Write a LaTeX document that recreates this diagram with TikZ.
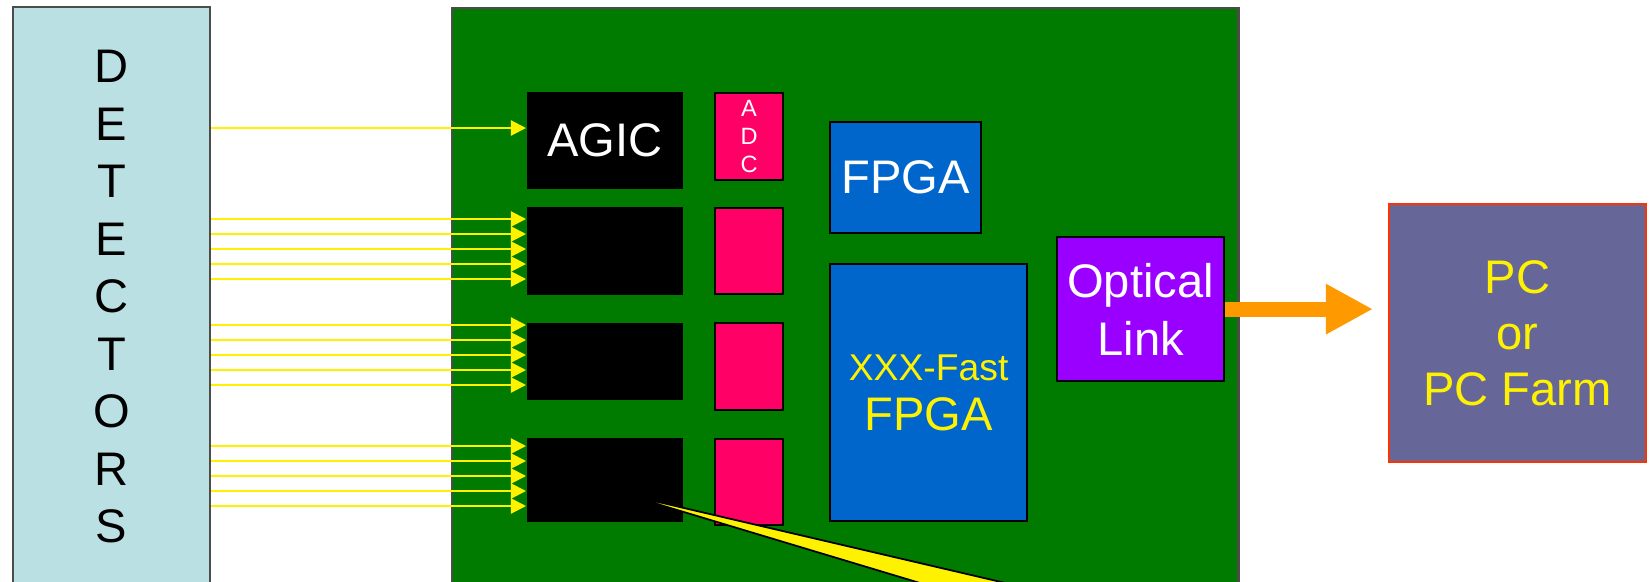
\documentclass[tikz,border=0pt]{standalone}
\usepackage{fontspec}
\setmainfont{Liberation Sans}
\usetikzlibrary{arrows.meta,positioning,calc}
\definecolor{detcyan}{RGB}{187,224,227}
\definecolor{boardgreen}{RGB}{0,123,0}
\definecolor{adcpink}{RGB}{255,0,102}
\definecolor{fpgablue}{RGB}{0,102,204}
\definecolor{linkviolet}{RGB}{153,0,255}
\definecolor{pcslate}{RGB}{102,102,153}
\definecolor{pcred}{RGB}{255,51,0}
\definecolor{linkorange}{RGB}{255,153,0}

\begin{document}
\begin{tikzpicture}[
  x=0.01cm, y=-0.01cm,
  font=\fontsize{13.4}{16.4}\selectfont,
  box/.style={draw, line width=0.6pt, inner sep=0pt, anchor=north west, align=center},
  chip/.style={box, draw=none, fill=black, text=white, minimum width=1.56cm},
  adcbox/.style={box, fill=adcpink, text=white, minimum width=0.68cm},
  fpgabox/.style={box, fill=fpgablue},
  sig/.style={yellow, line width=0.6pt, -{Triangle[length=0.15cm, width=0.15cm]}},
  uplink/.style={linkorange, line width=0.15cm, -{Triangle[length=0.47cm, width=0.47cm]}, shorten >=0.15cm}
]
\useasboundingbox (0,0) rectangle (1651,581);
\clip (0,0) rectangle (1651,581);

% detectors and readout board
\node[box, draw=black!70, fill=detcyan, minimum width=1.97cm, minimum height=5.79cm,
  font=\fontsize{13.4}{16.36}\selectfont] (det) at (12,6) {D\\E\\T\\E\\C\\T\\O\\R\\S};
\node[box, draw=black!70, fill=boardgreen, minimum width=7.86cm, minimum height=6cm] (board) at (451,7) {};

% front-end chips
\node[chip, minimum height=0.97cm] (agic) at (526,91) {AGIC};
\node[chip, minimum height=0.88cm] (chipb) at (526,206) {};
\node[chip, minimum height=0.77cm] (chipc) at (526,322) {};
\node[chip, minimum height=0.84cm] (chipd) at (526,437) {};

\node[adcbox, minimum height=0.87cm, font=\fontsize{6.7}{8}\selectfont] (adc) at (714,92) {A\\D\\C};
\node[adcbox, minimum height=0.86cm] (adcb) at (714,207) {};
\node[adcbox, minimum height=0.87cm] (adcc) at (714,322) {};
\node[adcbox, minimum height=0.86cm] (adcd) at (714,438) {};

% FPGAs and link
\node[fpgabox, text=white, minimum width=1.51cm, minimum height=1.11cm] (fpga) at (829,121) {FPGA};
\node[fpgabox, text=yellow, minimum width=1.97cm, minimum height=2.57cm,
  font=\fontsize{13.4}{14.1}\selectfont] (fastfpga) at (829,263) {{\fontsize{10.6}{12}\selectfont XXX-Fast}\\FPGA};
\node[box, fill=linkviolet, text=white, minimum width=1.67cm, minimum height=1.44cm] (optical) at (1056,236) {Optical\\Link};
\node[box, draw=pcred, fill=pcslate, text=yellow, minimum width=2.57cm, minimum height=2.58cm,
  font=\fontsize{13.4}{15.9}\selectfont] (pc) at (1388,203) {PC\\or\\PC Farm};

% detector signals
\draw[sig] (det.east |- 0,128) -- (agic.west |- 0,128);
\foreach \y in {219,234,249,264,279} \draw[sig] (det.east |- 0,\y) -- (chipb.west |- 0,\y);
\foreach \y in {325,340,355,370,385} \draw[sig] (det.east |- 0,\y) -- (chipc.west |- 0,\y);
\foreach \y in {446,461,476,491,506} \draw[sig] (det.east |- 0,\y) -- (chipd.west |- 0,\y);

\draw[uplink] (optical.east) -- (optical.east -| pc.west);

% callout
\coordinate (callout) at (624,494);
\draw[line width=0.5pt, fill=yellow] (callout) -- (1164,620) -- (1043,620) -- cycle;

\end{tikzpicture}
\end{document}
